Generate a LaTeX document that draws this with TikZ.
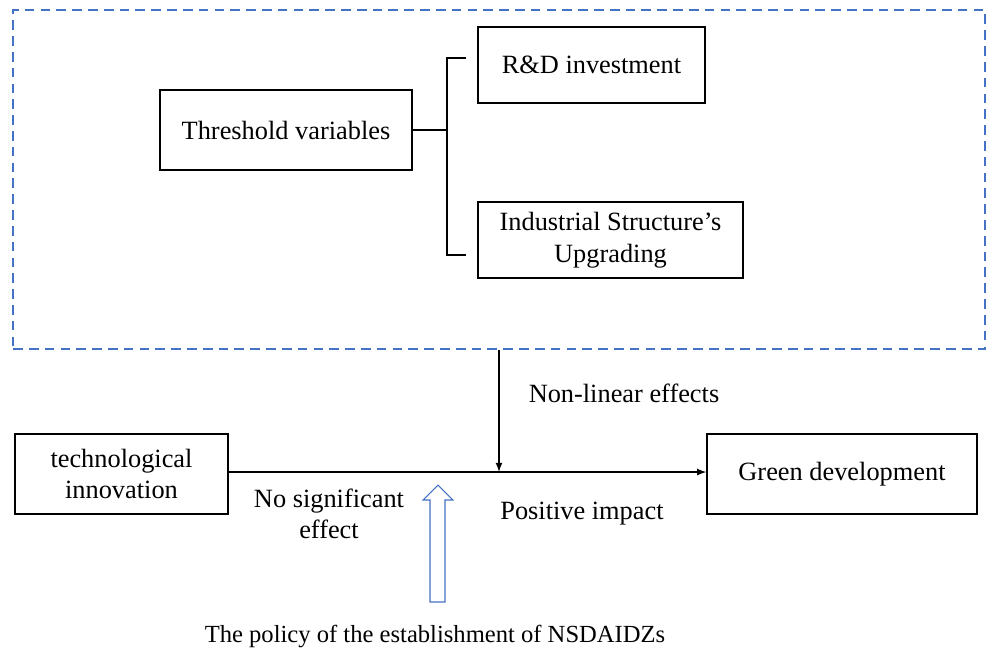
\documentclass[tikz,border=0pt]{standalone}
\usepackage{fontspec}
\setmainfont{Liberation Serif}
\usetikzlibrary{positioning}
\definecolor{frameblue}{RGB}{68,114,196}
\tikzset{
  box/.style={draw, line width=0.8pt, align=center, inner sep=2pt},
  lbl/.style={align=center, inner sep=0pt}
}

\begin{document}
\begin{tikzpicture}[x=0.02cm, y=-0.02cm, line width=0.8pt, font=\fontsize{15}{18}\selectfont]
\useasboundingbox (0,0) rectangle (997,650);

% dashed frame round the threshold part
\node [draw=frameblue, line width=1.1pt, dash pattern=on 5.5pt off 3.5pt, minimum width=19.44cm, minimum height=6.78cm] (frame) at (499,179.5) {};

\node [box, minimum width=5.04cm, minimum height=1.6cm] (thresh) at (286,130) {Threshold variables};
\node [box, minimum width=4.54cm, minimum height=1.52cm] (rdinv) at (591.5,65) {R\&D investment};
\node [box, minimum width=5.3cm, minimum height=1.52cm] (indup) at (610.5,240) {Industrial Structure's\\Upgrading};

% bracket
\coordinate (brk) at (447,130);
\coordinate (brktop) at (466,58);
\coordinate (brkbot) at (466,255);
\draw (thresh.east) -- (brk);
\draw (brktop) -- (447,58) -- (447,255) -- (brkbot);

% main line
\node [box, minimum width=4.26cm, minimum height=1.6cm] (techinno) at (121.5,474) {technological\\innovation};
\node [box, minimum width=5.4cm, minimum height=1.6cm] (greendev) at (842,474) {Green development};
\coordinate (join) at (499,472);

\draw [-latex] (techinno.east |- join) -- (greendev.west |- join);
\draw [-latex] (frame.south) -- (join);

\node [lbl] (nonlin) at (624,393) {Non-linear effects};
\node [lbl] (posimp) at (582,514) {Positive impact};
\node [lbl] (nosig) at (329,514) {No significant\\effect};

% hollow policy arrow
\draw [frameblue, line width=0.6pt] (430,602) -- (430,500) -- (423,500) -- (438,485) -- (453,500) -- (445,500) -- (445,602) -- cycle;
\node [lbl, font=\fontsize{14}{17}\selectfont] (policy) at (435,636) {The policy of the establishment of NSDAIDZs};

\end{tikzpicture}
\end{document}
